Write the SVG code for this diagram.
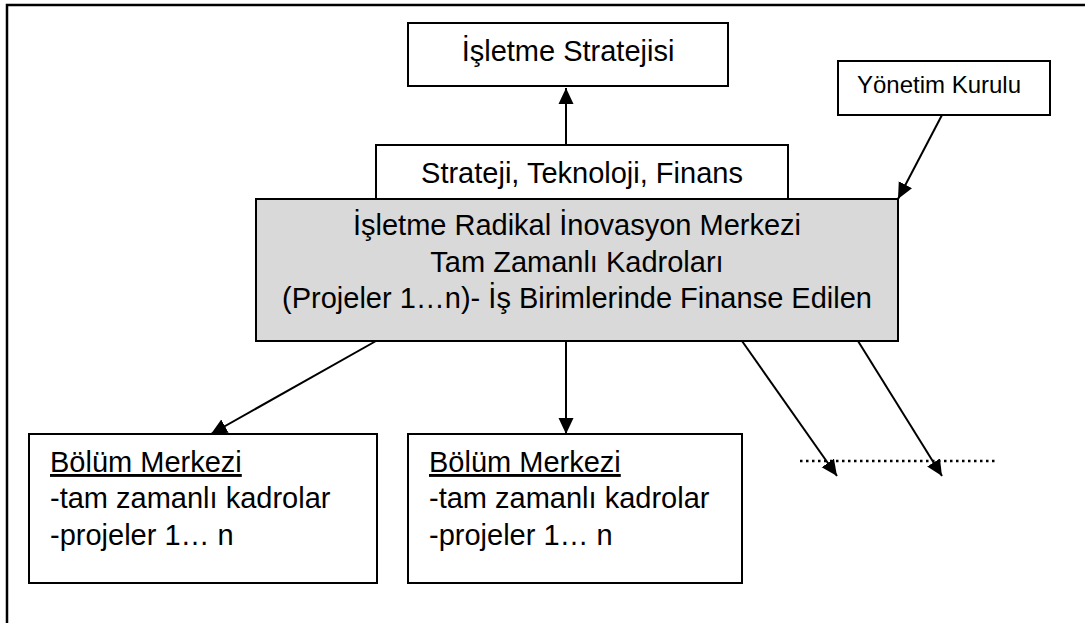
<svg xmlns="http://www.w3.org/2000/svg" width="1085" height="623" viewBox="0 0 1085 623">
  <style>
    .box { fill: #ffffff; stroke: #000000; stroke-width: 2; }
    .grey { fill: #d9d9d9; stroke: #000000; stroke-width: 2; }
    .t { font-family: "Liberation Sans", Arial, sans-serif; font-size: 29px; fill: #000000; }
    .mid { text-anchor: middle; }
    .small { font-size: 24px; }
    .edge { stroke: #000000; stroke-width: 2; fill: none; }
    .dots { stroke: #000000; stroke-width: 2.5; stroke-dasharray: 2.5 3.5; fill: none; }
  </style>
  <defs>
    <marker id="arrow" markerUnits="userSpaceOnUse" markerWidth="18" markerHeight="16" refX="16" refY="8" orient="auto">
      <path d="M0,0.5 L16,8 L0,15.5 z" fill="#000000"/>
    </marker>
  </defs>

  <rect width="1085" height="623" fill="#ffffff"/>

  <!-- outer frame -->
  <path d="M7,623 L7,5 L1085,5" fill="none" stroke="#000000" stroke-width="2.5"/>

  <g id="strateji-kutusu">
    <rect class="box" x="376" y="145" width="412" height="60"/>
    <text class="t mid" x="582" y="183">Strateji, Teknoloji, Finans</text>
  </g>

  <g id="isletme-stratejisi">
    <rect class="box" x="408" y="23" width="320" height="63"/>
    <text class="t mid" x="568" y="61">İşletme Stratejisi</text>
  </g>

  <g id="yonetim-kurulu">
    <rect class="box" x="838" y="61" width="212" height="54"/>
    <text class="t small mid" x="939" y="93">Yönetim Kurulu</text>
  </g>

  <g id="inovasyon-merkezi">
    <rect class="grey" x="256" y="199" width="642" height="142"/>
    <text class="t mid" x="577" y="235">İşletme Radikal İnovasyon Merkezi</text>
    <text class="t mid" x="577" y="272">Tam Zamanlı Kadroları</text>
    <text class="t mid" x="577" y="308">(Projeler 1…n)- İş Birimlerinde Finanse Edilen</text>
  </g>

  <g id="bolum-merkezi-1">
    <rect class="box" x="29" y="434" width="348" height="149"/>
    <text class="t" x="50" y="472" text-decoration="underline">Bölüm Merkezi</text>
    <text class="t" x="50" y="508">-tam zamanlı kadrolar</text>
    <text class="t" x="50" y="545">-projeler 1… n</text>
  </g>

  <g id="bolum-merkezi-2">
    <rect class="box" x="408" y="434" width="334" height="149"/>
    <text class="t" x="429" y="472" text-decoration="underline">Bölüm Merkezi</text>
    <text class="t" x="429" y="508">-tam zamanlı kadrolar</text>
    <text class="t" x="429" y="545">-projeler 1… n</text>
  </g>

  <g id="connectors">
    <line class="edge" x1="566" y1="145" x2="566" y2="88" marker-end="url(#arrow)"/>
    <line class="edge" x1="942" y1="115" x2="898" y2="199" marker-end="url(#arrow)"/>
    <line class="edge" x1="376" y1="341" x2="211" y2="434" marker-end="url(#arrow)"/>
    <line class="edge" x1="566" y1="341" x2="566" y2="434" marker-end="url(#arrow)"/>
    <line class="edge" x1="742" y1="341" x2="837" y2="476" marker-end="url(#arrow)"/>
    <line class="edge" x1="858" y1="341" x2="942" y2="476" marker-end="url(#arrow)"/>
    <line class="dots" x1="800" y1="461" x2="998" y2="461"/>
  </g>
</svg>
